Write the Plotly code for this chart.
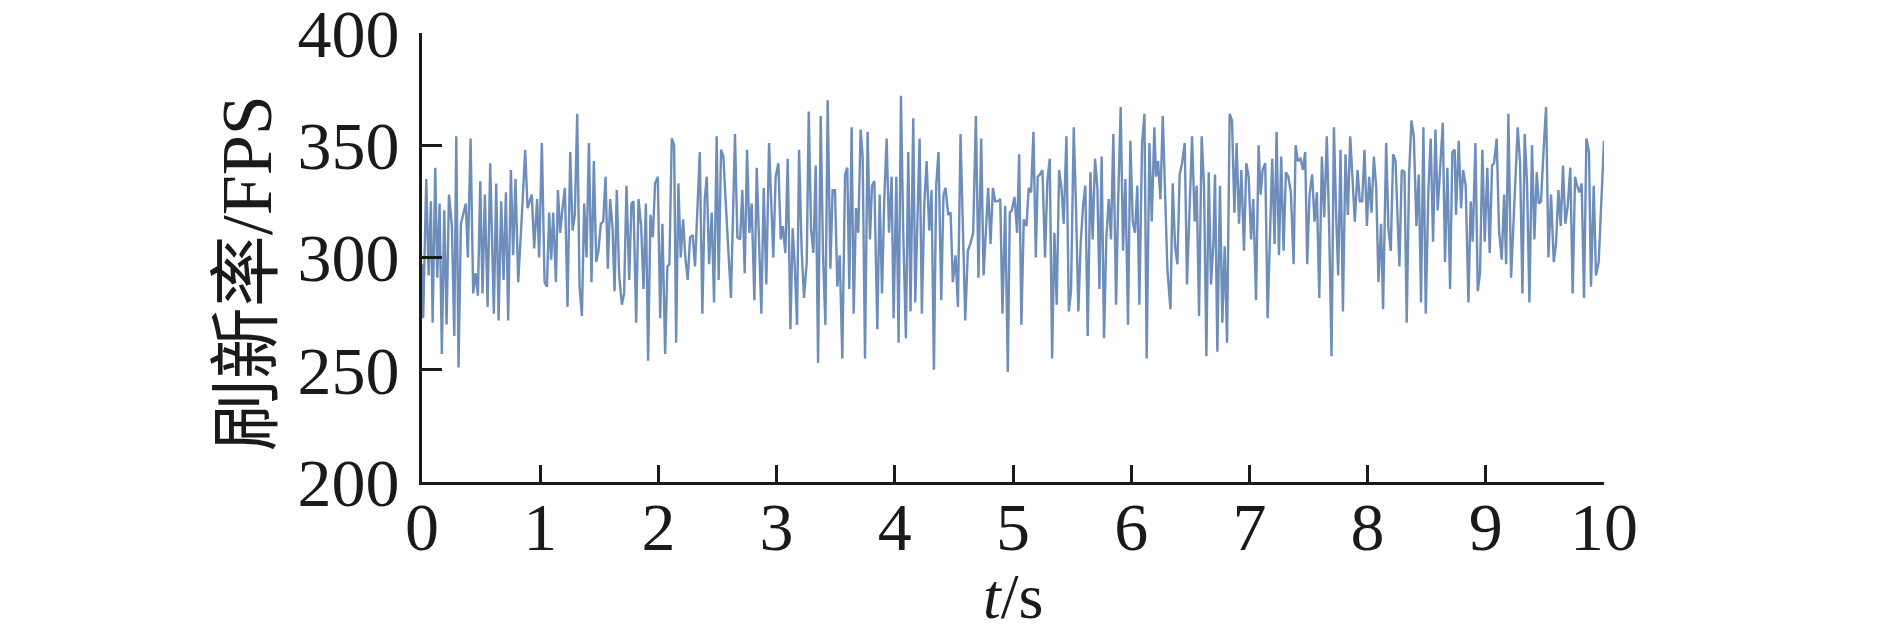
import plotly.graph_objects as go

# time (s) and refresh rate (FPS), one block per second
t_0 = [0.00, 0.01, 0.036, 0.056, 0.075, 0.090, 0.112, 0.129, 0.149, 0.168, 0.188, 0.208, 0.228, 0.253, 0.273, 0.290, 0.309, 0.329, 0.371, 0.388, 0.411, 0.433, 0.453, 0.473, 0.493, 0.512, 0.532, 0.555, 0.577, 0.608, 0.628, 0.648, 0.670, 0.690, 0.710, 0.729, 0.752, 0.771, 0.791, 0.814, 0.845, 0.873, 0.893, 0.929, 0.949, 0.974, 0.991]
f_0 = [297, 273, 335, 292, 325, 271, 340, 291, 324, 257, 321, 270, 328, 314, 265, 354, 251, 315, 324, 300, 353, 284, 293, 283, 334, 284, 328, 278, 342, 275, 333, 272, 325, 290, 329, 272, 339, 301, 335, 289, 319, 348, 322, 328, 304, 326, 300]

t_1 = [1.014, 1.037, 1.057, 1.076, 1.093, 1.110, 1.133, 1.150, 1.169, 1.189, 1.209, 1.231, 1.254, 1.274, 1.293, 1.313, 1.333, 1.353, 1.372, 1.392, 1.412, 1.434, 1.454, 1.474, 1.493, 1.513, 1.533, 1.553, 1.572, 1.592, 1.612, 1.629, 1.648, 1.668, 1.691, 1.710, 1.730, 1.753, 1.772, 1.789, 1.812, 1.832, 1.854, 1.874, 1.894, 1.913, 1.933, 1.953, 1.972, 1.995, 2.015]
f_1 = [351, 289, 287, 320, 299, 320, 289, 330, 311, 322, 331, 278, 347, 312, 319, 364, 287, 274, 324, 300, 351, 289, 343, 298, 303, 315, 316, 336, 295, 326, 313, 285, 330, 292, 279, 284, 332, 290, 324, 325, 271, 326, 314, 286, 324, 254, 319, 309, 333, 336, 273]

t_2 = [2.034, 2.057, 2.076, 2.093, 2.113, 2.133, 2.150, 2.169, 2.189, 2.209, 2.228, 2.248, 2.268, 2.290, 2.310, 2.330, 2.350, 2.372, 2.392, 2.409, 2.429, 2.451, 2.471, 2.493, 2.510, 2.530, 2.550, 2.569, 2.592, 2.614, 2.648, 2.668, 2.691, 2.710, 2.730, 2.750, 2.769, 2.789, 2.812, 2.832, 2.871, 2.891, 2.913, 2.936, 2.972, 2.992, 3.015]
f_2 = [315, 257, 296, 297, 353, 350, 262, 333, 300, 317, 300, 290, 309, 310, 296, 326, 347, 275, 326, 336, 297, 320, 280, 354, 290, 348, 345, 325, 300, 282, 355, 309, 308, 330, 293, 348, 311, 324, 281, 340, 275, 331, 288, 351, 300, 336, 342]

t_3 = [3.035, 3.052, 3.074, 3.094, 3.117, 3.136, 3.153, 3.173, 3.190, 3.212, 3.232, 3.255, 3.272, 3.291, 3.311, 3.331, 3.351, 3.373, 3.393, 3.413, 3.432, 3.455, 3.474, 3.494, 3.514, 3.534, 3.556, 3.579, 3.598, 3.615, 3.635, 3.652, 3.672, 3.691, 3.711, 3.728, 3.748, 3.770, 3.790, 3.807, 3.827, 3.852, 3.872, 3.892, 3.911, 3.931, 3.951, 3.973, 3.990, 4.013, 4.032]
f_3 = [308, 314, 302, 344, 268, 313, 297, 270, 348, 303, 282, 298, 365, 313, 302, 341, 253, 363, 301, 270, 370, 295, 330, 330, 287, 301, 255, 337, 340, 286, 358, 275, 322, 311, 357, 345, 255, 356, 308, 332, 334, 268, 328, 284, 326, 353, 311, 336, 273, 336, 262]

t_4 = [4.052, 4.071, 4.094, 4.114, 4.133, 4.156, 4.173, 4.193, 4.210, 4.229, 4.249, 4.269, 4.291, 4.311, 4.331, 4.350, 4.370, 4.393, 4.412, 4.429, 4.452, 4.472, 4.491, 4.514, 4.534, 4.556, 4.576, 4.596, 4.618, 4.638, 4.663, 4.686, 4.708, 4.731, 4.751, 4.770, 4.790, 4.810, 4.830, 4.849, 4.869, 4.892, 4.911, 4.934, 4.956, 4.973, 4.990, 5.013, 5.035, 5.052]
f_4 = [372, 312, 264, 347, 276, 362, 280, 315, 353, 275, 323, 343, 312, 330, 250, 332, 347, 281, 328, 331, 319, 320, 289, 301, 278, 355, 306, 272, 303, 306, 311, 363, 291, 353, 292, 313, 331, 306, 331, 325, 325, 326, 275, 323, 249, 320, 321, 327, 311, 346]

t_5 = [5.071, 5.091, 5.114, 5.133, 5.153, 5.173, 5.193, 5.209, 5.229, 5.249, 5.271, 5.291, 5.311, 5.331, 5.350, 5.370, 5.390, 5.410, 5.429, 5.452, 5.472, 5.491, 5.514, 5.534, 5.553, 5.573, 5.593, 5.612, 5.632, 5.655, 5.674, 5.694, 5.714, 5.731, 5.750, 5.770, 5.790, 5.810, 5.829, 5.849, 5.872, 5.891, 5.911, 5.931, 5.951, 5.973, 5.993, 6.013, 6.032, 6.052, 6.069]
f_5 = [270, 317, 314, 331, 329, 356, 300, 336, 337, 339, 300, 334, 344, 255, 311, 279, 339, 331, 315, 354, 276, 285, 358, 320, 276, 307, 323, 332, 265, 338, 308, 344, 331, 286, 345, 264, 309, 326, 308, 355, 279, 328, 367, 303, 335, 270, 352, 316, 311, 332, 279]

t_6 = [6.092, 6.112, 6.131, 6.154, 6.174, 6.196, 6.210, 6.227, 6.247, 6.267, 6.306, 6.332, 6.351, 6.371, 6.391, 6.410, 6.430, 6.453, 6.472, 6.495, 6.515, 6.537, 6.554, 6.574, 6.596, 6.616, 6.636, 6.656, 6.675, 6.695, 6.709, 6.729, 6.751, 6.771, 6.791, 6.811, 6.833, 6.853, 6.873, 6.892, 6.912, 6.932, 6.954, 6.974, 6.994, 7.014, 7.033, 7.056, 7.078]
f_6 = [351, 364, 255, 351, 316, 358, 336, 343, 326, 363, 295, 277, 333, 305, 297, 337, 342, 351, 288, 326, 354, 316, 332, 274, 354, 332, 256, 338, 288, 306, 337, 258, 332, 271, 305, 262, 364, 361, 320, 351, 315, 339, 303, 342, 336, 308, 326, 281, 350]

t_7 = [7.095, 7.112, 7.134, 7.154, 7.174, 7.193, 7.213, 7.230, 7.250, 7.269, 7.289, 7.309, 7.329, 7.351, 7.374, 7.391, 7.410, 7.433, 7.453, 7.472, 7.489, 7.509, 7.531, 7.551, 7.571, 7.591, 7.613, 7.633, 7.655, 7.675, 7.695, 7.715, 7.734, 7.751, 7.771, 7.791, 7.813, 7.833, 7.853, 7.872, 7.892, 7.915, 7.934, 7.954, 7.974, 7.994, 8.013, 8.033, 8.053, 8.073, 8.092]
f_7 = [328, 339, 342, 273, 309, 344, 306, 356, 301, 345, 303, 338, 336, 329, 297, 350, 343, 344, 339, 347, 297, 328, 337, 316, 329, 282, 345, 318, 354, 313, 256, 358, 319, 292, 348, 276, 346, 319, 354, 337, 316, 339, 325, 325, 348, 314, 336, 320, 345, 331, 289]

t_8 = [8.114, 8.131, 8.157, 8.176, 8.196, 8.216, 8.236, 8.255, 8.269, 8.289, 8.312, 8.331, 8.351, 8.371, 8.391, 8.413, 8.433, 8.452, 8.472, 8.492, 8.515, 8.534, 8.554, 8.574, 8.593, 8.613, 8.636, 8.655, 8.675, 8.698, 8.717, 8.737, 8.748, 8.771, 8.791, 8.808, 8.830, 8.853, 8.872, 8.889, 8.912, 8.932, 8.951, 8.971, 8.991, 9.013, 9.033, 9.053, 9.070, 9.092, 9.112]
f_8 = [315, 277, 351, 313, 303, 346, 343, 316, 296, 339, 338, 271, 337, 361, 354, 314, 337, 280, 358, 275, 331, 353, 307, 357, 321, 339, 360, 298, 340, 286, 347, 348, 319, 352, 322, 339, 332, 280, 325, 307, 351, 285, 293, 348, 307, 340, 302, 341, 342, 353, 312]

t_9 = [9.135, 9.155, 9.172, 9.191, 9.214, 9.234, 9.250, 9.270, 9.290, 9.310, 9.329, 9.349, 9.369, 9.391, 9.411, 9.431, 9.448, 9.467, 9.490, 9.510, 9.530, 9.552, 9.575, 9.594, 9.614, 9.634, 9.653, 9.673, 9.693, 9.715, 9.735, 9.755, 9.772, 9.792, 9.811, 9.831, 9.851, 9.873, 9.890, 9.913, 9.932, 9.955, 10.0]
f_9 = [299, 328, 297, 364, 291, 316, 331, 358, 342, 284, 355, 333, 280, 350, 308, 338, 324, 325, 349, 367, 300, 328, 298, 306, 330, 314, 341, 315, 323, 340, 284, 336, 332, 329, 333, 282, 353, 347, 287, 332, 292, 298, 352]

x_ticks = [0, 1, 2, 3, 4, 5, 6, 7, 8, 9, 10]
y_ticks = [200, 250, 300, 350, 400]
x_title = "<i>t</i>/s"
y_title = "刷新率/FPS"

t = t_0 + t_1 + t_2 + t_3 + t_4 + t_5 + t_6 + t_7 + t_8 + t_9
fps = f_0 + f_1 + f_2 + f_3 + f_4 + f_5 + f_6 + f_7 + f_8 + f_9

SERIF = "Liberation Serif"
INK = "#1a1a1a"

fig = go.Figure()
fig.add_trace(go.Scatter(x=t, y=fps, mode="lines",
                         line=dict(color="#6d8dbb", width=2.4), showlegend=False))

# the page body adds an 8px margin, so the figure is sized to fit inside it
fig.update_layout(
    template="none",
    width=1875, height=626,
    margin=dict(l=414, r=279, t=25, b=152, autoexpand=False),
    paper_bgcolor="white", plot_bgcolor="white",
    font=dict(family=SERIF, size=68, color=INK),
    annotations=[
        dict(text=x_title, xref="paper", yref="paper", x=0.5, y=-0.256,
             xanchor="center", yanchor="middle", showarrow=False,
             font=dict(family=SERIF, size=64, color=INK)),
        dict(text=y_title, xref="paper", yref="paper", x=-0.148, y=0.465,
             xanchor="center", yanchor="middle", showarrow=False, textangle=-90,
             font=dict(family="Liberation Serif, Noto Sans CJK SC", size=72, color=INK)),
    ],
)
fig.update_xaxes(
    range=[0, 10], tickvals=x_ticks, ticktext=[str(v) for v in x_ticks],
    showline=True, linecolor=INK, linewidth=3, mirror=False,
    ticks="inside", ticklen=17, tickwidth=3, tickcolor=INK,
    showgrid=False, zeroline=False, automargin=False, ticklabelstandoff=-17,
    ticklabeloverflow="allow",
    tickfont=dict(family=SERIF, size=68, color=INK),
)
fig.update_yaxes(
    range=[200, 400], tickvals=y_ticks, ticktext=[str(v) for v in y_ticks],
    showline=True, linecolor=INK, linewidth=3, mirror=False,
    ticks="inside", ticklen=20, tickwidth=3, tickcolor=INK,
    showgrid=False, zeroline=False, automargin=False, ticklabelstandoff=6,
    ticklabeloverflow="allow",
    tickfont=dict(family=SERIF, size=68, color=INK),
)

fig.write_html("out.html")
